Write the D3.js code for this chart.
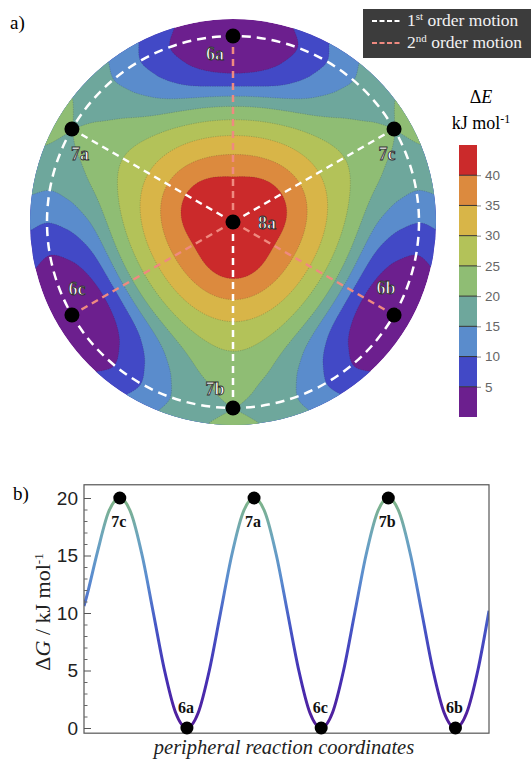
<!DOCTYPE html>
<html><head><meta charset="utf-8">
<script src="https://cdn.jsdelivr.net/npm/d3@7"></script>
<style>body{margin:0;background:#fff} svg{display:block}</style>
</head><body>
<svg id="c" width="531" height="759"></svg>
<script>
// ---------------- data ----------------
const bandThresholds = [5, 10, 15, 20, 25, 30, 35, 40];
const bandColors = ["#6c1f8e", "#4249c6", "#5a8ccc", "#6ea79c", "#8fbd74", "#b3c259", "#d8b548", "#dc8a3e", "#cb2a2b"];
const colorbarTicks = [5, 10, 15, 20, 25, 30, 35, 40];
const colorbarRange = [0, 45];
const radialR        = [0,  0.2,  0.4,  0.6,  0.8, 0.9, 1.0, 1.1];
const energyToward6  = [44, 41.3, 33.5, 22.0, 5.2, 1.5, 0.0, 1.5];
const energyToward7  = [44, 43.0, 35.5, 27.5, 22.5, 20.7, 20.0, 20.8];
// stationary points on the map: angle clockwise from top (deg), radius
const mapPointNames  = ["8a", "6a", "7c", "6b", "7b", "6c", "7a"];
const mapPointAngles = [0, 0, 60, 120, 180, 240, 300];
const mapPointRadii  = [0, 1, 1, 1, 1, 1, 1];
// peripheral profile (panel b)
const periCoord = [-32,-30,-20,-10,0,10,20,30,40,50,60,70,80,90,100,110,120,130,140,150,160,170,180,190,200,210,220,230,240,250,260,270,280,290,300,310,320,330];
const periDG    = [10.6,11.3,15.3,18.8,20,18.7,15,10,5,1.3,0,1.3,5,10,15,18.7,20,18.7,15,10,5,1.3,0,1.3,5,10,15,18.7,20,18.7,15,10,5,1.3,0,1.3,5,10.2];
const periPointNames  = ["7c", "6a", "7a", "6c", "7b", "6b"];
const periPointCoord  = [0, 60, 120, 180, 240, 300];
const periPointDG     = [20, 0, 20, 0, 20, 0];
const yTicksB = [0, 5, 10, 15, 20];

// ---------------- helpers ----------------
const svg = d3.select("#c");
const serif = "'Liberation Serif','DejaVu Serif',serif";
const sans = "'Liberation Sans',Arial,sans-serif";

function monotoneInterp(xs, ys) {
  const n = xs.length, s = [], d = [];
  for (let k = 0; k < n - 1; k++) s.push((ys[k+1]-ys[k])/(xs[k+1]-xs[k]));
  d[0] = 0;
  for (let k = 1; k < n - 1; k++) d[k] = (s[k-1]*s[k] <= 0) ? 0 : 2/(1/s[k-1] + 1/s[k]);
  d[n-1] = s[n-2];
  return x => {
    if (x <= xs[0]) return ys[0];
    if (x >= xs[n-1]) return ys[n-1];
    const i = Math.min(n-2, d3.bisectRight(xs, x) - 1);
    const h = xs[i+1]-xs[i], t = (x-xs[i])/h, t2 = t*t, t3 = t2*t;
    return (2*t3-3*t2+1)*ys[i] + (t3-2*t2+t)*h*d[i] + (-2*t3+3*t2)*ys[i+1] + (t3-t2)*h*d[i+1];
  };
}
const f6 = monotoneInterp(radialR, energyToward6);
const f7 = monotoneInterp(radialR, energyToward7);

// ---------------- panel a ----------------
const cx = 233, cy = 222, R = 186, Rout = 203;
const ext = 1.12, n = 241, step = 2*ext/(n-1);
const grid = new Float64Array(n*n);
for (let j = 0; j < n; j++) for (let i = 0; i < n; i++) {
  const x = -ext + i*step, yd = -ext + j*step;
  const r = Math.sqrt(x*x + yd*yd);
  const phi = Math.atan2(x, -yd);
  const e6 = f6(r), e7 = f7(r);
  grid[j*n+i] = (e6+e7)/2 - (e7-e6)/2*Math.cos(3*phi);
}
const contours = d3.contours().size([n, n]).thresholds(bandThresholds)(grid);
const proj = d3.geoIdentity().scale(R*step).translate([cx - R*ext, cy - R*ext]);
const gpath = d3.geoPath(proj);

svg.append("clipPath").attr("id", "disk").append("circle").attr("cx", cx).attr("cy", cy).attr("r", Rout);
const map = svg.append("g").attr("clip-path", "url(#disk)");
map.append("circle").attr("cx", cx).attr("cy", cy).attr("r", Rout).attr("fill", bandColors[0]);
map.selectAll("path.band").data(contours).join("path")
  .attr("d", gpath).attr("fill", (d, i) => bandColors[i+1]);
map.selectAll("path.line").data(contours).join("path")
  .attr("d", gpath).attr("fill", "none").attr("stroke", "rgba(50,50,50,0.35)")
  .attr("stroke-width", 0.6).attr("stroke-dasharray", "1.2,1.2");

const mapPts = mapPointNames.map((name, k) => {
  const a = mapPointAngles[k]*Math.PI/180, r = mapPointRadii[k]*R;
  return {name, x: cx + r*Math.sin(a), y: cy - r*Math.cos(a)};
});
const ptBy = Object.fromEntries(mapPts.map(p => [p.name, p]));
// spokes
["6a","6b","6c"].forEach(nm => svg.append("line").attr("x1", cx).attr("y1", cy)
  .attr("x2", ptBy[nm].x).attr("y2", ptBy[nm].y).attr("stroke", "#ef8a80")
  .attr("stroke-width", 2.5).attr("stroke-dasharray", "7,5"));
["7a","7b","7c"].forEach(nm => svg.append("line").attr("x1", cx).attr("y1", cy)
  .attr("x2", ptBy[nm].x).attr("y2", ptBy[nm].y).attr("stroke", "#fff")
  .attr("stroke-width", 2.5).attr("stroke-dasharray", "7,5"));
svg.append("circle").attr("cx", cx).attr("cy", cy).attr("r", R).attr("fill", "none")
  .attr("stroke", "#fff").attr("stroke-width", 2.5).attr("stroke-dasharray", "9,6");
svg.selectAll("circle.pt").data(mapPts).join("circle")
  .attr("cx", d => d.x).attr("cy", d => d.y).attr("r", 7.5).attr("fill", "#000");
const mapLabelOffset = {"8a":[34,7], "6a":[-18,24], "7c":[-7,31], "6b":[-8,-21], "7b":[-18,-13], "6c":[5,-20], "7a":[8,31]};
svg.selectAll("text.ml").data(mapPts).join("text")
  .attr("x", d => d.x + mapLabelOffset[d.name][0]).attr("y", d => d.y + mapLabelOffset[d.name][1])
  .attr("text-anchor", "middle").attr("font-family", serif).attr("font-size", 18)
  .attr("font-weight", "bold")
  .attr("fill", "#fff").attr("stroke", "#333").attr("stroke-width", 0.9).text(d => d.name);

// panel label
svg.append("text").attr("x", 10).attr("y", 29).attr("font-family", serif).attr("font-size", 19).text("a)");

// legend
const lg = svg.append("g");
lg.append("rect").attr("x", 363).attr("y", 9).attr("width", 170).attr("height", 49).attr("fill", "#3c3c3c");
[["#ffffff","1","st",26], ["#ef8a80","2","nd",48]].forEach(([col, num, sup, yy]) => {
  lg.append("line").attr("x1", 372).attr("x2", 400).attr("y1", yy-5).attr("y2", yy-5)
    .attr("stroke", col).attr("stroke-width", 2.2).attr("stroke-dasharray", "5,2.5");
  const t = lg.append("text").attr("x", 407).attr("y", yy).attr("font-family", serif)
    .attr("font-size", 17.5).attr("fill", "#f2f2f2");
  t.append("tspan").text(num);
  t.append("tspan").attr("dy", -6).attr("font-size", 11).text(sup);
  t.append("tspan").attr("dy", 6).text(" order motion");
});

// colorbar
const cbY = d3.scaleLinear().domain(colorbarRange).range([417, 145]);
const cbEdges = [colorbarRange[0], ...bandThresholds, colorbarRange[1]];
const cb = svg.append("g");
cb.selectAll("rect").data(bandColors).join("rect")
  .attr("x", 459).attr("width", 18)
  .attr("y", (d, i) => cbY(cbEdges[i+1])).attr("height", (d, i) => cbY(cbEdges[i]) - cbY(cbEdges[i+1]))
  .attr("fill", d => d);
cb.selectAll("line.sep").data(bandThresholds).join("line")
  .attr("x1", 459).attr("x2", 477).attr("y1", d => cbY(d)).attr("y2", d => cbY(d))
  .attr("stroke", "#333").attr("stroke-width", 1);
const cbAxis = d3.axisRight(cbY).tickValues(colorbarTicks).tickSize(4).tickPadding(4);
const cba = cb.append("g").attr("transform", "translate(477,0)").call(cbAxis);
cba.select(".domain").remove();
cba.selectAll(".tick line").attr("stroke", "#888");
cba.selectAll(".tick text").attr("font-family", sans).attr("font-size", 13.5).attr("fill", "#666");
const cbt = svg.append("text").attr("x", 481).attr("y", 103).attr("text-anchor", "middle")
  .attr("font-family", serif).attr("font-size", 18);
cbt.append("tspan").text("Δ");
cbt.append("tspan").attr("font-style", "italic").text("E");
const cbt2 = svg.append("text").attr("x", 481).attr("y", 129).attr("text-anchor", "middle")
  .attr("font-family", serif).attr("font-size", 18);
cbt2.append("tspan").text("kJ mol");
cbt2.append("tspan").attr("dy", -6).attr("font-size", 12).text("-1");

// ---------------- panel b ----------------
const xB = d3.scaleLinear().domain([-32, 330]).range([84, 489]);
const yB = d3.scaleLinear().domain([0, 20]).range([728, 498]);
const frameTop = yB(21.15), frameBot = yB(-0.45);
svg.append("text").attr("x", 13).attr("y", 500).attr("font-family", serif).attr("font-size", 19).text("b)");

const defs = svg.append("defs");
const grad = defs.append("linearGradient").attr("id", "lineGrad").attr("gradientUnits", "userSpaceOnUse")
  .attr("x1", 0).attr("x2", 0).attr("y1", yB(0)).attr("y2", yB(20));
[[0, "#531c98"], [0.22, "#4530b4"], [0.45, "#4658c6"], [0.65, "#5a8ccf"], [0.82, "#6ba4c0"], [1, "#80b584"]]
  .forEach(([o, c]) => grad.append("stop").attr("offset", o).attr("stop-color", c));

svg.append("clipPath").attr("id", "frameClip").append("rect")
  .attr("x", 84).attr("y", frameTop).attr("width", 405).attr("height", frameBot - frameTop);
const line = d3.line().x((d, i) => xB(periCoord[i])).y(d => yB(d)).curve(d3.curveMonotoneX);
svg.append("path").attr("d", line(periDG)).attr("fill", "none").attr("stroke", "url(#lineGrad)")
  .attr("stroke-width", 3).attr("clip-path", "url(#frameClip)");

svg.append("rect").attr("x", 84).attr("y", frameTop).attr("width", 405).attr("height", frameBot - frameTop)
  .attr("fill", "none").attr("stroke", "#555").attr("stroke-width", 1.2);

const ax = svg.append("g").attr("transform", "translate(84,0)")
  .call(d3.axisLeft(yB).tickValues(yTicksB).tickSize(-7).tickPadding(6));
ax.select(".domain").remove();
ax.selectAll(".tick line").attr("stroke", "#555");
ax.selectAll(".tick text").attr("font-family", sans).attr("font-size", 19).attr("fill", "#222");
const axm = svg.append("g").attr("transform", "translate(84,0)")
  .call(d3.axisLeft(yB).tickValues(d3.range(0, 21, 1).filter(v => v % 5 !== 0)).tickSize(-3.5).tickFormat(""));
axm.select(".domain").remove();
axm.selectAll(".tick line").attr("stroke", "#666");

svg.selectAll("circle.bp").data(periPointNames).join("circle")
  .attr("cx", (d, i) => xB(periPointCoord[i])).attr("cy", (d, i) => yB(periPointDG[i]))
  .attr("r", 6.5).attr("fill", "#000");
svg.selectAll("text.bl").data(periPointNames).join("text")
  .attr("x", (d, i) => xB(periPointCoord[i]) - 1)
  .attr("y", (d, i) => yB(periPointDG[i]) + (periPointDG[i] > 10 ? 29 : -15))
  .attr("text-anchor", "middle").attr("font-family", serif).attr("font-weight", "bold")
  .attr("font-size", 16).attr("fill", "#111").text(d => d);

const yl = svg.append("text").attr("transform", "translate(50,612) rotate(-90)")
  .attr("text-anchor", "middle").attr("font-family", serif).attr("font-size", 22).attr("fill", "#222");
yl.append("tspan").text("Δ");
yl.append("tspan").attr("font-style", "italic").text("G");
yl.append("tspan").text(" / kJ mol");
yl.append("tspan").attr("dy", -7).attr("font-size", 13).text("-1");

svg.append("text").attr("x", 284).attr("y", 754).attr("text-anchor", "middle")
  .attr("font-family", serif).attr("font-style", "italic").attr("font-size", 20.5).attr("fill", "#222")
  .text("peripheral reaction coordinates");
</script>
</body></html>
